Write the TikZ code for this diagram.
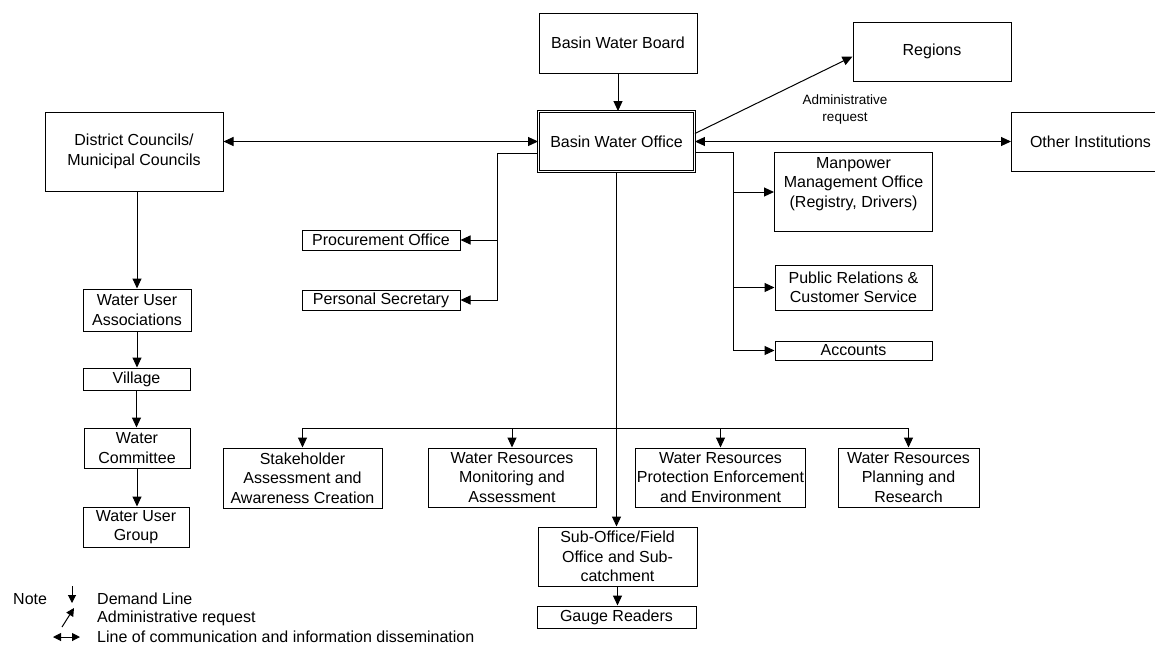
\documentclass[tikz,border=0pt]{standalone}
\usepackage{fontspec}
\setmainfont{Liberation Sans}
\usetikzlibrary{arrows.meta,calc}
\begin{document}
\begin{tikzpicture}[x=1pt,y=-1pt,
  every node/.style={font=\fontsize{16}{19.5}\selectfont},
  box/.style={draw, line width=1pt, inner sep=1pt, align=center},
  dbox/.style={draw, double, line width=0.9pt, double distance=1.6pt, inner sep=1pt, align=center},
  txt/.style={inner sep=0pt, align=center},
  conn/.style={line width=1pt},
  arr/.style={line width=1pt, -{Triangle[length=10pt,width=9pt]}},
  darr/.style={line width=1pt, {Triangle[length=10pt,width=9pt]}-{Triangle[length=10pt,width=9pt]}},
  larr/.style={line width=1pt, -{Triangle[length=8pt,width=8pt]}},
  small/.style={inner sep=0pt, align=center, font=\fontsize{13.5}{17}\selectfont}
]
\useasboundingbox (0,0) rectangle (1155,646);

% top
\node[box, minimum width=158, minimum height=60] (board) at (618,43) {Basin Water Board};
\node[dbox, minimum width=156, minimum height=60] (office) at (616.5,141.5) {Basin Water Office};
\node[box, minimum width=158, minimum height=59] (regions) at (932,51.5) {Regions};
\node[box, minimum width=158, minimum height=59, anchor=west] (other) at (1011,141.5) {Other Institutions};
\node[small] (admin) at (845,110) {Administrative\\request};

% left chain
\node[box, minimum width=178, minimum height=79] (district) at (134,151.5) {District Councils/\\Municipal Councils};
\node[box, minimum width=108, minimum height=42] (wua) at (137,310) {Water User\\Associations};
\node[box, minimum width=107, minimum height=22] (village) at (136.5,379) {Village};
\node[box, minimum width=106, minimum height=40] (committee) at (137,448) {Water\\Committee};
\node[box, minimum width=106, minimum height=40] (group) at (136,527) {Water User\\Group};

% left side offices
\node[box, minimum width=158, minimum height=20] (proc) at (381,240) {Procurement Office};
\node[box, minimum width=158, minimum height=20] (sec) at (381,300) {Personal Secretary};

% right side offices
\node[box, minimum width=158, minimum height=79, anchor=north west] (man) at (774,152) {};
\node[txt, anchor=north] (mantext) at ([yshift=-5pt]man.north) {Manpower\\Management Office\\(Registry, Drivers)};
\node[box, minimum width=157, minimum height=45] (pub) at (853.5,287.5) {Public Relations \&\\Customer Service};
\node[box, minimum width=157, minimum height=19] (acc) at (853.5,350.5) {Accounts};

% departments
\node[box, minimum width=159, minimum height=60] (stake) at (302.5,478) {Stakeholder\\Assessment and\\Awareness Creation};
\node[box, minimum width=168, minimum height=59] (mon) at (512,477.5) {Water Resources\\Monitoring and\\Assessment};
\node[box, minimum width=167, minimum height=59] (prot) at (720.5,477.5) {Water Resources\\Protection Enforcement\\and Environment};
\node[box, minimum width=141, minimum height=59] (plan) at (908.5,477.5) {Water Resources\\Planning and\\Research};

\node[box, minimum width=159, minimum height=59] (sub) at (617.5,556.5) {Sub-Office/Field\\Office and Sub-\\catchment};
\node[box, minimum width=159, minimum height=22] (gauge) at (616.5,617) {Gauge Readers};

% connectors top
\draw[arr] (board.south) -- (board.south |- office.north);
\draw[arr] ([yshift=8pt]office.east) -- ([yshift=-5pt]regions.west);
\draw[darr] (office.east) -- (office.east -| other.west);
\draw[darr] (district.east |- office.west) -- (office.west);

% left chain
\draw[arr] (district.south -| wua.north) -- (wua.north);
\draw[arr] (wua.south) -- (wua.south |- village.north);
\draw[arr] (village.south) -- (village.south |- committee.north);
\draw[arr] (committee.south) -- (committee.south |- group.north);

% left branch
\coordinate (lj) at (497,153);
\draw[arr] (office.west |- lj) -- (lj) |- (sec.east);
\draw[arr] (lj |- proc.east) -- (proc.east);

% right branch
\coordinate (rj) at (733,152);
\draw[arr] (office.east |- rj) -- (rj) |- (acc.west);
\draw[arr] (rj |- man.west) -- (man.west);
\draw[arr] (rj |- pub.west) -- (pub.west);

% down
\draw[arr] (office.south) -- (office.south |- sub.north);
\draw[arr] (sub.south) -- (sub.south |- gauge.north);

% bus
\coordinate (bus) at (617,428);
\draw[conn] (bus -| stake.north) -- (bus -| plan.north);
\draw[arr] (bus -| stake.north) -- (stake.north);
\draw[arr] (bus -| mon.north) -- (mon.north);
\draw[arr] (bus -| prot.north) -- (prot.north);
\draw[arr] (bus -| plan.north) -- (plan.north);

% legend
\node[txt, anchor=west] (note) at (13,599) {Note};
\coordinate (l1a) at (72,586);
\coordinate (l1b) at (72,603);
\draw[larr] (l1a) -- (l1b);
\node[txt, anchor=west] (leg1) at (97,599) {Demand Line};
\coordinate (l2a) at (62,627);
\coordinate (l2b) at (74,608);
\draw[larr] (l2a) -- (l2b);
\node[txt, anchor=west] (leg2) at (97,618) {Administrative request};
\coordinate (l3a) at (53,637);
\coordinate (l3b) at (80,637);
\draw[line width=1pt, {Triangle[length=8pt,width=8pt]}-{Triangle[length=8pt,width=8pt]}] (l3a) -- (l3b);
\node[txt, anchor=west] (leg3) at (97,637) {Line of communication and information dissemination};
\end{tikzpicture}
\end{document}
